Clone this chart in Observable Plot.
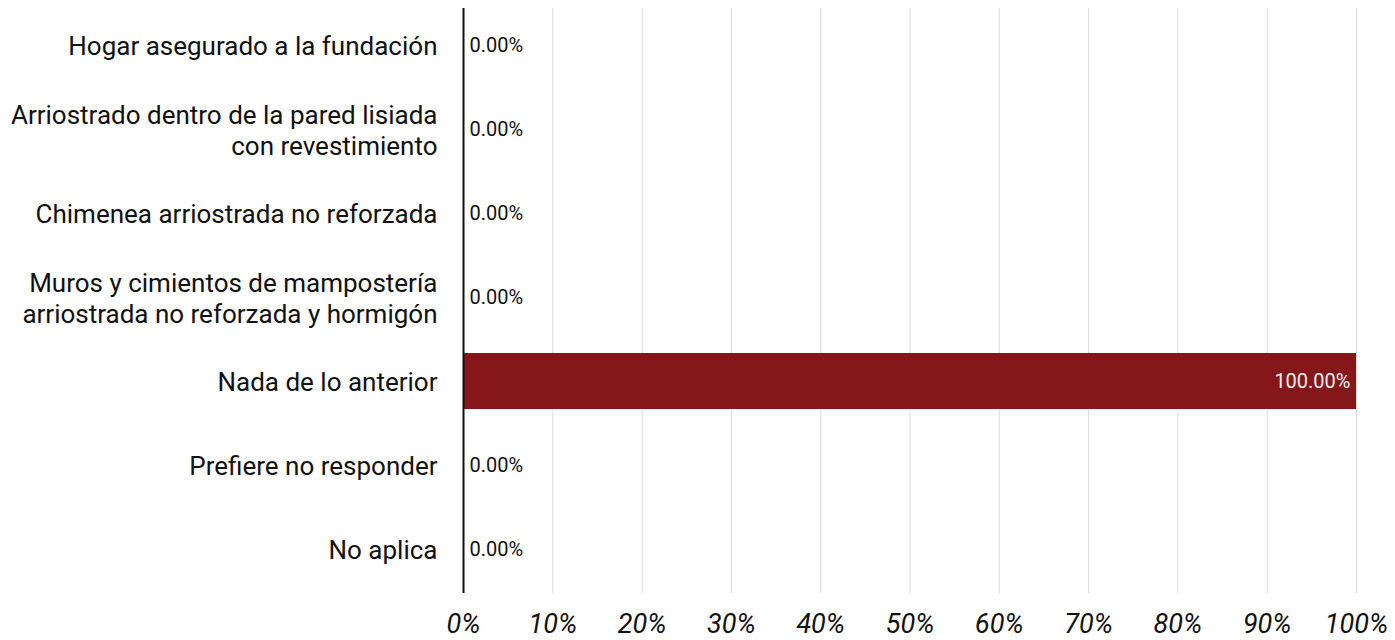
<!DOCTYPE html>
<html><head><meta charset="utf-8">
<script src="https://cdn.jsdelivr.net/npm/d3@7"></script>
<script src="https://cdn.jsdelivr.net/npm/@observablehq/plot@0.6"></script>
<style>body{margin:0;background:#fff;font-family:Roboto,sans-serif}</style>
</head><body><div id="chart"></div>
<script>
const categories = [
  "Hogar asegurado a la fundación",
  "Arriostrado dentro de la pared lisiada\ncon revestimiento",
  "Chimenea arriostrada no reforzada",
  "Muros y cimientos de mampostería\narriostrada no reforzada y hormigón",
  "Nada de lo anterior",
  "Prefiere no responder",
  "No aplica"
];
const values = [0, 0, 0, 0, 100, 0, 0];
const xTicks = [0,10,20,30,40,50,60,70,80,90,100];
const data = categories.map((c,i)=>({cat:c, v:values[i]}));

const chart = Plot.plot({
  width: 1395, height: 640,
  marginLeft: 463, marginRight: 39, marginTop: 1, marginBottom: 47,
  style: {fontFamily: "Roboto, sans-serif", background: "#fff"},
  x: {domain:[0,100], ticks: xTicks, label: null},
  y: {domain: categories, paddingInner: 0.337, paddingOuter: 0.165, label: null},
  marks: [
    Plot.ruleX(xTicks.slice(1), {stroke:"#dcdcdc", strokeWidth:1, insetTop: 7}),
    Plot.barX(data, {y:"cat", x:"v", fill:"#85171a"}),
    Plot.ruleX([0], {stroke:"#111", strokeWidth:2, insetTop: 7}),
    Plot.axisX({ticks: xTicks, tickFormat: d=>d+"%", tickSize:0, tickPadding:20, fontSize:27, fontStyle:"italic", fill:"#111", anchor:"bottom", label:null}),
    Plot.axisY({tickSize:0, tickPadding:26, fontSize:26, fill:"#111", lineHeight:1.2, label:null}),
    Plot.text(data.filter(d=>d.v<50), {y:"cat", x:0, text:d=>d.v.toFixed(2)+"%", textAnchor:"start", dx:6, fontSize:20, fill:"#111"}),
    Plot.text(data.filter(d=>d.v>=50), {y:"cat", x:"v", text:d=>d.v.toFixed(2)+"%", textAnchor:"end", dx:-6, fontSize:20, fill:"#eeeeee"})
  ]
});
document.getElementById("chart").appendChild(chart);
</script></body></html>
